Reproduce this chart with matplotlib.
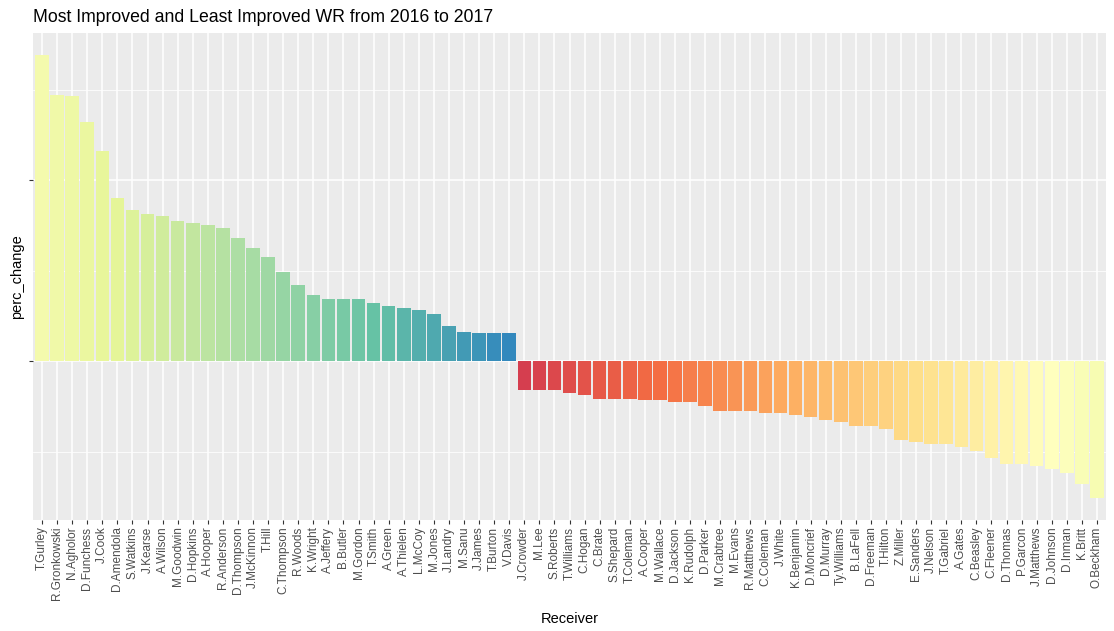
import matplotlib
matplotlib.use("Agg")
import matplotlib.pyplot as plt
from matplotlib.colors import LinearSegmentedColormap
import numpy as np

receivers_pos = ["T.Gurley", "R.Gronkowski", "N.Agholor", "D.Funchess", "J.Cook",
                 "D.Amendola", "S.Watkins", "J.Kearse", "A.Wilson", "M.Goodwin",
                 "D.Hopkins", "A.Hooper", "R.Anderson", "D.Thompson", "J.McKinnon",
                 "T.Hill", "C.Thompson", "R.Woods", "K.Wright", "A.Jeffery",
                 "B.Butler", "M.Gordon", "T.Smith", "A.Green", "A.Thielen",
                 "L.McCoy", "M.Jones", "J.Landry", "M.Sanu", "J.James",
                 "T.Burton", "V.Davis"]
values_pos = [169.1, 147.0, 146.6, 132.2, 116.2, 90.2, 83.4, 81.4, 80.3, 77.5,
              76.4, 75.3, 73.6, 68.1, 62.6, 57.6, 49.3, 42.2, 36.6, 34.4,
              34.4, 34.4, 32.2, 30.5, 29.4, 28.2, 26.0, 19.5, 16.2, 15.6,
              15.6, 15.6]

receivers_neg = ["J.Crowder", "M.Lee", "S.Roberts", "T.Williams", "C.Hogan",
                 "C.Brate", "S.Shepard", "T.Coleman", "A.Cooper", "M.Wallace",
                 "D.Jackson", "K.Rudolph", "D.Parker", "M.Crabtree", "M.Evans",
                 "R.Matthews", "C.Coleman", "J.White", "K.Benjamin", "D.Moncrief",
                 "D.Murray", "Ty.Williams", "B.LaFell", "D.Freeman", "T.Hilton",
                 "Z.Miller", "E.Sanders", "J.Nelson", "T.Gabriel", "A.Gates",
                 "C.Beasley", "C.Fleener", "D.Thomas", "P.Garcon", "J.Matthews",
                 "D.Johnson", "D.Inman", "K.Britt", "O.Beckham"]
values_neg = [-16.0, -16.0, -16.0, -17.5, -18.8, -21.0, -21.0, -21.0, -21.5, -21.5,
              -22.7, -22.7, -24.9, -27.6, -27.6, -27.6, -28.7, -28.7, -29.8, -30.9,
              -32.6, -33.7, -35.9, -35.9, -37.6, -43.6, -44.8, -45.9, -45.9, -47.5,
              -49.7, -53.6, -56.9, -56.9, -58.0, -59.5, -61.7, -68.0, -75.5]

spectral9 = ["#D53E4F", "#F46D43", "#FDAE61", "#FEE08B", "#FFFFBF",
             "#E6F598", "#ABDDA4", "#66C2A5", "#3288BD"]

title = "Most Improved and Least Improved WR from 2016 to 2017"
xlabel = "Receiver"
ylabel = "perc_change"

receivers = receivers_pos + receivers_neg
values = values_pos + values_neg
n = len(receivers)

# fill order: negatives first (red -> pale), then positives (pale -> blue)
fill_order = receivers_neg + receivers_pos
cmap = LinearSegmentedColormap.from_list("spec", spectral9)
fill_idx = {r: i for i, r in enumerate(fill_order)}
colors = [cmap(fill_idx[r] / (n - 1)) for r in receivers]

FONT = ["Liberation Sans", "DejaVu Sans"]
plt.rcParams['font.family'] = FONT

W, H = 1114, 631
fig = plt.figure(figsize=(W / 100, H / 100), dpi=100)
L, R, T, B = 33, 1106, 33, 520
ax = fig.add_axes([L / W, 1 - B / H, (R - L) / W, (B - T) / H])
ax.set_facecolor("#EBEBEB")

x = np.arange(n)
ax.bar(x, values, width=0.9, color=colors, zorder=3, linewidth=0)

ymin = min(values)
ymax = max(values)
rng = ymax - ymin
ax.set_ylim(ymin - 0.05 * rng, ymax + 0.05 * rng)
ax.set_xlim(-0.6, n - 1 + 0.6)

ax.set_yticks([0, 100])
ax.set_yticks([-50, 50, 150], minor=True)
ax.set_yticklabels([])
ax.set_xticks(x)
ax.set_xticklabels(receivers, rotation=90, fontsize=8.45, color="#4D4D4D")

ax.grid(True, which="major", color="white", linewidth=1.1, zorder=1)
ax.grid(True, which="minor", axis="y", color="white", linewidth=0.55, zorder=1)
ax.set_axisbelow(True)
for s in ax.spines.values():
    s.set_visible(False)

ax.tick_params(axis="both", which="major", length=2.64, width=0.8, color="#333333", pad=2.1)
ax.tick_params(axis="y", which="minor", length=0)

ax.set_xlabel(xlabel, fontsize=10.56, color="black", va="center")
ax.set_ylabel(ylabel, fontsize=10.56, color="black", va="center")
ax.xaxis.set_label_coords(0.5, -(619 - B) / (B - T))
ax.yaxis.set_label_coords(-(L - 17) / (R - L), 0.5)

fig.text(L / W, 1 - 22 / H, title, fontsize=12.67, color="black", ha="left", va="baseline")

fig.savefig("out.png", dpi=100)
